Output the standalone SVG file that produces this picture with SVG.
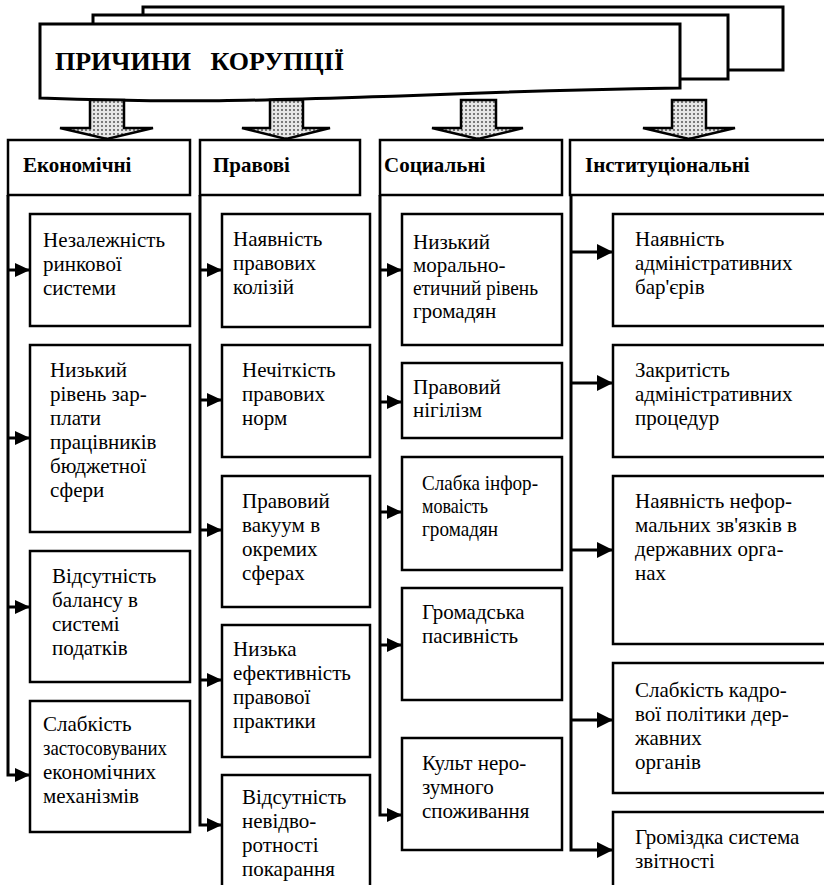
<svg xmlns="http://www.w3.org/2000/svg" width="824" height="885" viewBox="0 0 824 885">
<style>
.box{fill:#fff;stroke:#000;stroke-width:2.5}
.ban{fill:#fff;stroke:#000;stroke-width:3}
text{font-family:'Liberation Serif','DejaVu Serif',serif;fill:#000}
.t{font-size:21px}
.h{font-size:21px;font-weight:bold}
.ttl{font-size:26px;font-weight:bold;white-space:pre}
.conn line,.conn path{fill:none;stroke:#000;stroke-width:3}
.ar{fill:url(#dots);stroke:#000;stroke-width:2.5;stroke-linejoin:miter}
</style>
<defs>
<pattern id="dots" width="4" height="4" patternUnits="userSpaceOnUse">
<rect width="4" height="4" fill="#e6e6e6"/>
<circle cx="2" cy="2" r="1" fill="#555"/>
</pattern>
<marker id="ah" markerUnits="userSpaceOnUse" markerWidth="16" markerHeight="14" refX="15" refY="7" orient="auto">
<path d="M0,0 L15,7 L0,14 z" fill="#000"/>
</marker>
<marker id="ah2" markerUnits="userSpaceOnUse" markerWidth="17" markerHeight="16" refX="16" refY="8" orient="auto">
<path d="M0,0 L16,8 L0,16 z" fill="#000"/>
</marker>
</defs>

<g id="banner">
<rect class="ban" x="143" y="7" width="640" height="63"/>
<rect class="ban" x="93" y="15" width="635" height="64"/>
<path class="ban" d="M40,24 H680 V88 C560,90 470,93 400,96 C300,99 200,104 40,98 Z"/>
<text class="ttl" x="55" y="70" xml:space="preserve">ПРИЧИНИ   КОРУПЦІЇ</text>
</g>

<g id="arrows">
<path class="ar" d="M90,100 H124 V128 H153 L107,139 L60,128 H90 Z"/>
<path class="ar" d="M270,100 H303 V128 H330 L286,139 L242,128 H270 Z"/>
<path class="ar" d="M461,100 H496 V128 H523 L478,139 L432,128 H461 Z"/>
<path class="ar" d="M672,100 H706 V128 H735 L689,139 L643,128 H672 Z"/>
</g>

<g id="h-econ"><rect class="box" x="8" y="140" width="182" height="55"/><text class="h" x="23" y="172">Економічні</text></g>
<g id="h-prav"><rect class="box" x="200" y="140" width="160" height="55"/><text class="h" x="213" y="172">Правові</text></g>
<g id="h-soc"><rect class="box" x="380" y="140" width="182" height="55"/><text class="h" x="384" y="172">Социальні</text></g>
<g id="h-inst"><rect class="box" x="570" y="140" width="262" height="55"/><text class="h" x="585" y="172">Інституціональні</text></g>

<g class="conn" id="connectors">
<line x1="8" y1="270" x2="30" y2="270" marker-end="url(#ah)"/>
<line x1="8" y1="438" x2="30" y2="438" marker-end="url(#ah)"/>
<line x1="8" y1="607" x2="30" y2="607" marker-end="url(#ah)"/>
<path d="M8,195 V775 H30" marker-end="url(#ah)"/>
<line x1="200" y1="270" x2="222" y2="270" marker-end="url(#ah)"/>
<line x1="200" y1="400" x2="222" y2="400" marker-end="url(#ah)"/>
<line x1="200" y1="530" x2="222" y2="530" marker-end="url(#ah)"/>
<line x1="200" y1="680" x2="222" y2="680" marker-end="url(#ah)"/>
<path d="M200,195 V825 H222" marker-end="url(#ah)"/>
<line x1="380" y1="270" x2="402" y2="270" marker-end="url(#ah)"/>
<line x1="380" y1="402" x2="402" y2="402" marker-end="url(#ah)"/>
<line x1="380" y1="512" x2="402" y2="512" marker-end="url(#ah)"/>
<line x1="380" y1="645" x2="402" y2="645" marker-end="url(#ah)"/>
<path d="M380,195 V815 H402" marker-end="url(#ah)"/>
<line x1="571" y1="252" x2="613" y2="252" marker-end="url(#ah2)"/>
<line x1="571" y1="383" x2="613" y2="383" marker-end="url(#ah2)"/>
<line x1="571" y1="550" x2="613" y2="550" marker-end="url(#ah2)"/>
<line x1="571" y1="720" x2="613" y2="720" marker-end="url(#ah2)"/>
<path d="M571,195 V850 H613" marker-end="url(#ah2)"/>
</g>

<g id="e1"><rect class="box" x="30" y="214" width="160" height="112"/><text class="t" x="43" y="247">Незалежність</text><text class="t" x="43" y="271">ринкової</text><text class="t" x="43" y="295">системи</text></g>
<g id="e2"><rect class="box" x="30" y="345" width="160" height="187"/><text class="t" x="50" y="377">Низький</text><text class="t" x="50" y="401">рівень зар-</text><text class="t" x="50" y="425">плати</text><text class="t" x="50" y="449">працівників</text><text class="t" x="50" y="473">бюджетної</text><text class="t" x="50" y="497">сфери</text></g>
<g id="e3"><rect class="box" x="30" y="551" width="160" height="131"/><text class="t" x="52" y="583">Відсутність</text><text class="t" x="52" y="607">балансу в</text><text class="t" x="52" y="631">системі</text><text class="t" x="52" y="655">податків</text></g>
<g id="e4"><rect class="box" x="30" y="701" width="160" height="131"/><text class="t" x="43" y="731">Слабкість</text><text class="t" x="43" y="755" textLength="124" lengthAdjust="spacingAndGlyphs">застосовуваних</text><text class="t" x="43" y="779">економічних</text><text class="t" x="43" y="803">механізмів</text></g>

<g id="p1"><rect class="box" x="222" y="214" width="148" height="113"/><text class="t" x="233" y="246">Наявність</text><text class="t" x="233" y="270">правових</text><text class="t" x="233" y="294">колізій</text></g>
<g id="p2"><rect class="box" x="222" y="345" width="148" height="112"/><text class="t" x="242" y="377">Нечіткість</text><text class="t" x="242" y="401">правових</text><text class="t" x="242" y="425">норм</text></g>
<g id="p3"><rect class="box" x="222" y="476" width="148" height="131"/><text class="t" x="242" y="508">Правовий</text><text class="t" x="242" y="532">вакуум в</text><text class="t" x="242" y="556">окремих</text><text class="t" x="242" y="580">сферах</text></g>
<g id="p4"><rect class="box" x="222" y="625" width="148" height="132"/><text class="t" x="233" y="656">Низька</text><text class="t" x="233" y="680">ефективність</text><text class="t" x="233" y="704">правової</text><text class="t" x="233" y="728">практики</text></g>
<g id="p5"><rect class="box" x="222" y="775" width="148" height="130"/><text class="t" x="242" y="804">Відсутність</text><text class="t" x="242" y="828">невідво-</text><text class="t" x="242" y="852">ротності</text><text class="t" x="242" y="876">покарання</text></g>

<g id="s1"><rect class="box" x="402" y="214" width="160" height="131"/><text class="t" x="413" y="249">Низький</text><text class="t" x="413" y="272">морально-</text><text class="t" x="413" y="295" textLength="125" lengthAdjust="spacingAndGlyphs">етичний рівень</text><text class="t" x="413" y="318">громадян</text></g>
<g id="s2"><rect class="box" x="402" y="363" width="160" height="75"/><text class="t" x="413" y="394">Правовий</text><text class="t" x="413" y="417">нігілізм</text></g>
<g id="s3"><rect class="box" x="402" y="457" width="160" height="113"/><text class="t" x="422" y="490" textLength="116" lengthAdjust="spacingAndGlyphs">Слабка інфор-</text><text class="t" x="422" y="513" textLength="66" lengthAdjust="spacingAndGlyphs">моваість</text><text class="t" x="422" y="536" textLength="76" lengthAdjust="spacingAndGlyphs">громадян</text></g>
<g id="s4"><rect class="box" x="402" y="588" width="160" height="112"/><text class="t" x="422" y="619">Громадська</text><text class="t" x="422" y="643">пасивність</text></g>
<g id="s5"><rect class="box" x="402" y="738" width="160" height="112"/><text class="t" x="422" y="770">Культ неро-</text><text class="t" x="422" y="794">зумного</text><text class="t" x="422" y="818">споживання</text></g>

<g id="i1"><rect class="box" x="613" y="214" width="220" height="112"/><text class="t" x="635" y="246">Наявність</text><text class="t" x="635" y="270">адміністративних</text><text class="t" x="635" y="294">бар'єрів</text></g>
<g id="i2"><rect class="box" x="613" y="345" width="220" height="112"/><text class="t" x="635" y="377">Закритість</text><text class="t" x="635" y="401">адміністративних</text><text class="t" x="635" y="425">процедур</text></g>
<g id="i3"><rect class="box" x="613" y="476" width="220" height="168"/><text class="t" x="635" y="508">Наявність нефор-</text><text class="t" x="635" y="532">мальних зв'язків в</text><text class="t" x="635" y="556">державних орга-</text><text class="t" x="635" y="580">нах</text></g>
<g id="i4"><rect class="box" x="613" y="663" width="220" height="130"/><text class="t" x="635" y="697">Слабкість кадро-</text><text class="t" x="635" y="721">вої політики дер-</text><text class="t" x="635" y="745">жавних</text><text class="t" x="635" y="769">органів</text></g>
<g id="i5"><rect class="box" x="613" y="812" width="220" height="100"/><text class="t" x="635" y="844">Громіздка система</text><text class="t" x="635" y="868">звітності</text></g>
</svg>
